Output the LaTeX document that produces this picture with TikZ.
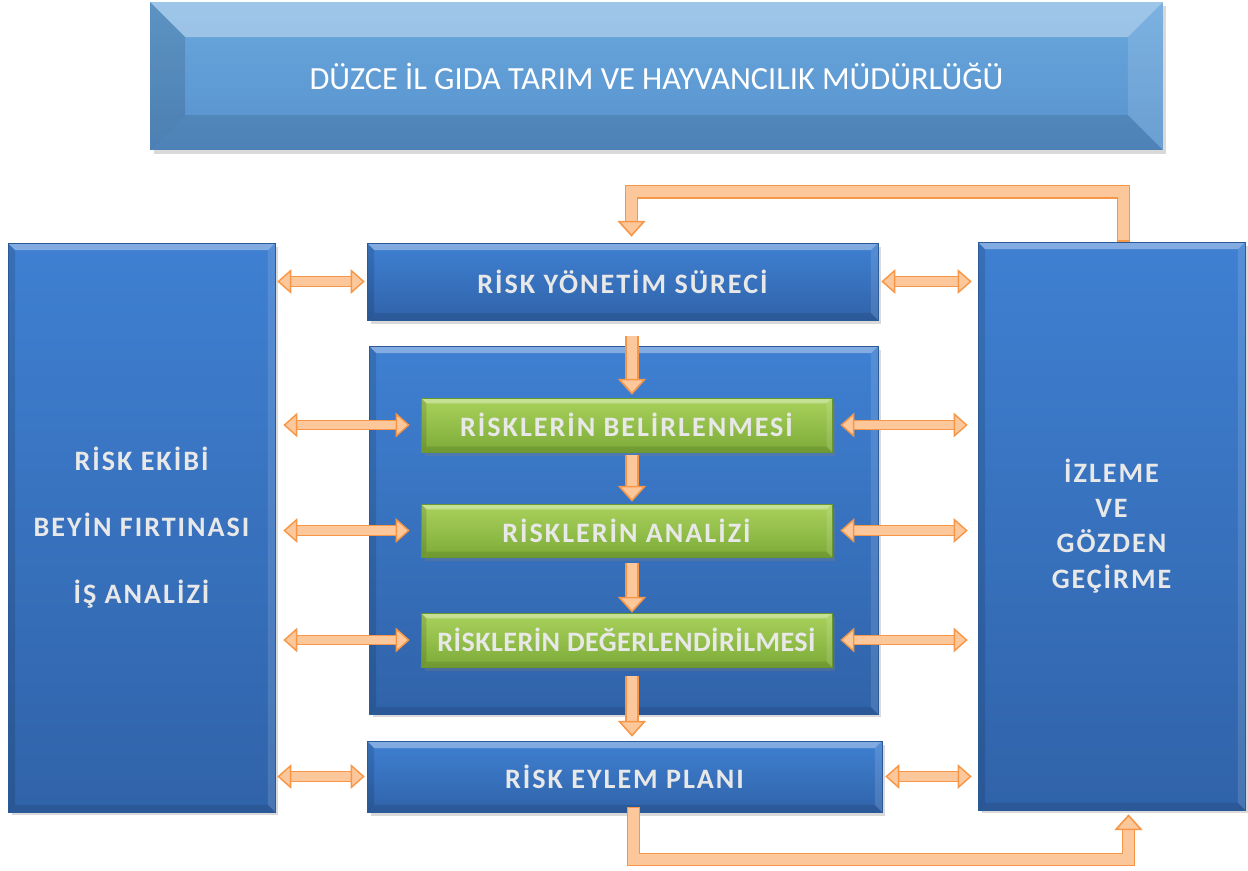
\documentclass[tikz,border=0pt]{standalone}
\usepackage{fontspec}
\setmainfont{Carlito}
\newfontfamily\boxfont[LetterSpace=7]{Carlito}
\newfontfamily\narrowfont[LetterSpace=1.5]{Carlito}
\usepackage{tikz}
\usetikzlibrary{arrows.meta,shadows}

\definecolor{arrline}{HTML}{F79646}
\definecolor{arrfill}{HTML}{FCC89B}
\definecolor{boxtop}{HTML}{3F80D2}
\definecolor{boxbot}{HTML}{3063A9}
\definecolor{boxedge}{HTML}{2C5A96}
\definecolor{titletop}{HTML}{6AA8DE}
\definecolor{titlebot}{HTML}{5791CC}
\definecolor{greentop}{HTML}{A9D25C}
\definecolor{greenbot}{HTML}{7DAB38}
\definecolor{greenedge}{HTML}{6A9630}
\definecolor{boxtext}{HTML}{E8E8E8}

\tikzset{
  bevel/.style={path picture={
      \coordinate (bnw) at (path picture bounding box.north west);
      \coordinate (bne) at (path picture bounding box.north east);
      \coordinate (bsw) at (path picture bounding box.south west);
      \coordinate (bse) at (path picture bounding box.south east);
      \fill[white,opacity=0.35] (bnw) -- (bne) -- ([xshift=-#1,yshift=-#1]bne) -- ([xshift=#1,yshift=-#1]bnw) -- cycle;
      \fill[black,opacity=0.12] (bnw) -- ([xshift=#1,yshift=-#1]bnw) -- ([xshift=#1,yshift=#1]bsw) -- (bsw) -- cycle;
      \fill[white,opacity=0.12] (bne) -- ([xshift=-#1,yshift=-#1]bne) -- ([xshift=-#1,yshift=#1]bse) -- (bse) -- cycle;
      \fill[black,opacity=0.1] (bsw) -- ([xshift=#1,yshift=#1]bsw) -- ([xshift=-#1,yshift=#1]bse) -- (bse) -- cycle;
    }},
  box/.style={draw=boxedge, line width=0.4pt, top color=boxtop, bottom color=boxbot,
    text=boxtext, align=center, font=\boxfont\bfseries\fontsize{16pt}{20pt}\selectfont,
    drop shadow={opacity=0.3, shadow xshift=2pt, shadow yshift=-2pt}, bevel=4pt},
  greenbox/.style={box, draw=greenedge, top color=greentop, bottom color=greenbot, bevel=3pt},
  titlebox/.style={box, draw=none, top color=titletop, bottom color=titlebot, text=white,
    font=\fontsize{18.4pt}{22pt}\selectfont, bevel=0.7cm},
  side arr/.style={draw=arrline, line width=0.8pt, double=arrfill, double distance=4.6pt,
    >={Triangle[length=8pt,width=14pt,fill=arrfill,line width=0.8pt]}, <->},
  down arr/.style={draw=arrline, line width=0.9pt, double=arrfill, double distance=6pt,
    -{Triangle[length=9pt,width=16pt,fill=arrfill,line width=0.9pt]}},
  loop arr/.style={down arr, line join=miter, line cap=rect},
}

\begin{document}
\begin{tikzpicture}[x=0.02cm, y=-0.02cm]
  \useasboundingbox (0,0) rectangle (1248,870);

  \node[titlebox, minimum width=20.26cm, minimum height=2.96cm] (title) at (656.5,76) {DÜZCE İL GIDA TARIM VE HAYVANCILIK MÜDÜRLÜĞÜ};

  \node[box, minimum width=5.34cm, minimum height=11.38cm] (ekip) at (141.5,527.5) {RİSK EKİBİ\\[18pt]BEYİN FIRTINASI\\[18pt]İŞ ANALİZİ};
  \node[box, minimum width=5.34cm, minimum height=11.36cm] (izleme) at (1111.5,526) {İZLEME\\VE\\GÖZDEN\\GEÇİRME};

  \node[box, minimum width=10.22cm, minimum height=1.54cm] (surec) at (622.5,281.5) {RİSK YÖNETİM SÜRECİ};
  \node[box, minimum width=10.18cm, minimum height=7.36cm] (orta) at (623.5,530) {};
  \node[greenbox, minimum width=8.22cm, minimum height=1.08cm] (belirle) at (626.5,425) {RİSKLERİN BELİRLENMESİ};
  \node[greenbox, minimum width=8.22cm, minimum height=1.06cm] (analiz) at (626.5,530.5) {RİSKLERİN ANALİZİ};
  \node[greenbox, minimum width=8.22cm, minimum height=1.08cm, font=\narrowfont\bfseries\fontsize{16pt}{20pt}\selectfont] (deger) at (626.5,640) {RİSKLERİN DEĞERLENDİRİLMESİ};
  \node[box, minimum width=10.3cm, minimum height=1.42cm] (eylem) at (624.5,776.5) {RİSK EYLEM PLANI};

  \coordinate (col) at (632,0);

  \draw[down arr, shorten <=0.32cm, shorten >=0.06cm] (surec.south -| col) -- (belirle.north -| col);
  \draw[down arr, shorten <=0.06cm, shorten >=0.04cm] (belirle.south -| col) -- (analiz.north -| col);
  \draw[down arr, shorten <=0.12cm] (analiz.south -| col) -- (deger.north -| col);
  \draw[down arr, shorten <=0.18cm, shorten >=0.08cm] (deger.south -| col) -- (eylem.north -| col);

  \foreach \n in {surec,eylem} {
    \draw[side arr, shorten <=0.04cm, shorten >=0.04cm] (ekip.east |- \n.west) -- (\n.west);
    \draw[side arr, shorten <=0.06cm, shorten >=0.12cm] (\n.east) -- (izleme.west |- \n.east);
  }
  \foreach \n in {belirle,analiz,deger} {
    \draw[side arr, shorten <=0.16cm, shorten >=0.22cm] (ekip.east |- \n.west) -- (\n.west);
    \draw[side arr, shorten <=0.16cm, shorten >=0.2cm] (\n.east) -- (izleme.west |- \n.east);
  }

  \draw[loop arr] ([shift={(12,-7)}]izleme.north) -- ++(0,-43) -| ([shift={(9,-6)}]surec.north);
  \draw[loop arr] ([shift={(9,1)}]eylem.south) -- ++(0,46) -| ([shift={(17,4)}]izleme.south);
\end{tikzpicture}
\end{document}
